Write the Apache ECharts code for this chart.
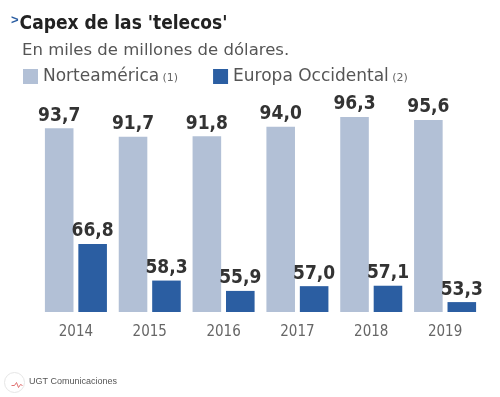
<!DOCTYPE html>
<html>
<head>
<meta charset="utf-8">
<script src="https://cdn.jsdelivr.net/npm/echarts@6/dist/echarts.min.js"></script>
<style>
  html, body { margin: 0; padding: 0; background: #fff; }
  #main { width: 500px; height: 397px; }
</style>
</head>
<body>
<div id="main"></div>
<script>
var years = ['2014', '2015', '2016', '2017', '2018', '2019'];
var norteamerica = [93.7, 91.7, 91.8, 94.0, 96.3, 95.6];
var europa = [66.8, 58.3, 55.9, 57.0, 57.1, 53.3];

var cond = "'DejaVu Sans Condensed', 'Liberation Sans', Arial, sans-serif";
var wide = "'DejaVu Sans', Arial, sans-serif";
var sans = "'Liberation Sans', Arial, sans-serif";

function coma (p) {
  return p.value.toFixed(1).replace('.', ',')
}

var myChart = echarts.init(document.getElementById('main'));

var labelStyle = {
  show: true, position: 'top', distance: 3, formatter: coma,
  fontSize: 19, fontWeight: 'bold', color: '#333', fontFamily: cond
};

var option = {
  backgroundColor: '#fff',
  animation: false,
  color: ['#b2c0d6', '#2b5ea2'],
  title: [
    {
      left: 6,
      top: 9,
      text: "{c|>}{t|Capex de las 'telecos'}",
      textStyle: {
        rich: {
          c: { fontSize: 13, fontWeight: 'bold', color: '#2b5ea2', fontFamily: sans, verticalAlign: 'top', padding: [0, 1, 8, 0] },
          t: { fontSize: 19, fontWeight: 'bold', color: '#222', fontFamily: cond }
        }
      }
    },
    {
      left: 17,
      top: 37,
      text: 'En miles de millones de dólares.',
      textStyle: { fontSize: 16.5, fontWeight: 'normal', color: '#555', fontFamily: wide }
    }
  ],
  legend: {
    left: 18,
    top: 63,
    itemWidth: 15,
    itemHeight: 15,
    itemGap: 35,
    icon: 'rect',
    data: ['Norteamérica', 'Europa Occidental'],
    formatter: function (name) {
      return '{a|' + name + '} {b|' + (name === 'Norteamérica' ? '(1)' : '(2)') + '}'
    },
    textStyle: {
      rich: {
        a: { fontSize: 17, color: '#555', fontFamily: wide },
        b: { fontSize: 11, color: '#666', fontFamily: wide, padding: [3, 0, 0, 0] }
      }
    }
  },
  grid: {
    left: 39,
    right: 18,
    top: 101,
    bottom: 85
  },
  xAxis: {
    type: 'category',
    data: years,
    axisLine: { show: false },
    axisTick: { show: false },
    axisLabel: { color: '#666', fontSize: 15, fontFamily: cond, margin: 13 }
  },
  yAxis: {
    type: 'value',
    min: 51,
    max: 100,
    show: false
  },
  series: [
    {
      name: 'Norteamérica',
      type: 'bar',
      data: norteamerica,
      barGap: '17%',
      barCategoryGap: '16%',
      label: labelStyle
    },
    {
      name: 'Europa Occidental',
      type: 'bar',
      data: europa,
      label: labelStyle
    }
  ],
  graphic: [
    {
      type: 'circle', left: 4, top: 372, shape: { r: 10 },
      style: { fill: '#fff', stroke: '#e6e6e6', lineWidth: 1 }
    },
    {
      type: 'polyline', left: 9, top: 380,
      shape: { points: [[0, 3], [3, 3], [5, 0], [7, 5], [9, 2], [11, 3]] },
      style: { stroke: '#e07070', fill: null, lineWidth: 1 }
    },
    {
      type: 'text', left: 29, top: 377,
      style: { text: 'UGT Comunicaciones', fontSize: 9, fill: '#555', fontFamily: sans }
    }
  ]
};

myChart.setOption(option);
</script>
</body>
</html>
